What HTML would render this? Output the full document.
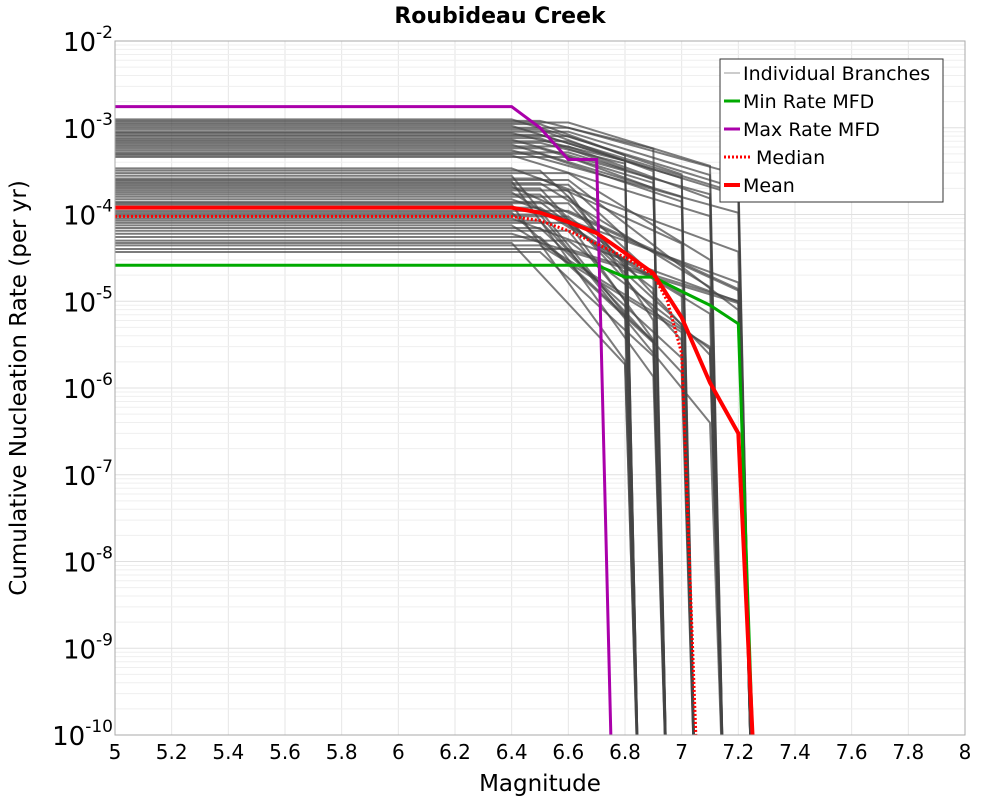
<!DOCTYPE html>
<html><head><meta charset="utf-8"><style>
body{margin:0;background:#fff;font-family:"DejaVu Sans","Liberation Sans",sans-serif}
</style></head><body>
<svg id="chart" width="1000" height="800" xmlns="http://www.w3.org/2000/svg" font-family="DejaVu Sans, Liberation Sans, sans-serif">
<defs><clipPath id="pc"><rect x="115" y="41" width="850" height="694"/></clipPath></defs>
<text x="500" y="23" text-anchor="middle" font-size="22" font-weight="bold">Roubideau Creek</text>
<g id="grid"></g>
<g id="branches" clip-path="url(#pc)"></g>
<g id="main" clip-path="url(#pc)"></g>
<rect x="115" y="41" width="850" height="694" fill="none" stroke="#aaa" stroke-width="1"/>
<g id="axes"></g>
<text x="540" y="791" text-anchor="middle" font-size="23">Magnitude</text>
<text transform="translate(26,388) rotate(-90)" text-anchor="middle" font-size="23">Cumulative Nucleation Rate (per yr)</text>
<g>
<rect x="720" y="59" width="223" height="143" fill="#fff" stroke="#333" stroke-width="1"/>
<line x1="724" y1="73" x2="740" y2="73" stroke="#999" stroke-width="1"/>
<text x="743" y="80" font-size="19">Individual Branches</text>
<line x1="724" y1="101" x2="740" y2="101" stroke="#00aa00" stroke-width="3"/>
<text x="743" y="108" font-size="19">Min Rate MFD</text>
<line x1="724" y1="129" x2="740" y2="129" stroke="#aa00aa" stroke-width="3"/>
<text x="743" y="136" font-size="19">Max Rate MFD</text>
<line x1="724" y1="157" x2="752" y2="157" stroke="#ff0000" stroke-width="3" stroke-dasharray="2,2"/>
<text x="756" y="164" font-size="19">Median</text>
<line x1="724" y1="185" x2="740" y2="185" stroke="#ff0000" stroke-width="4"/>
<text x="743" y="192" font-size="19">Mean</text>
</g>
</svg>
<script>
const xTicks=[5,5.2,5.4,5.6,5.8,6,6.2,6.4,6.6,6.8,7,7.2,7.4,7.6,7.8,8];
const yExps=[-2,-3,-4,-5,-6,-7,-8,-9,-10];
const minM=[5,6.7,6.8,6.9,7.0,7.1,7.2,7.25];
const minR=[2.6e-5,2.6e-5,1.9e-5,1.9e-5,1.3e-5,9e-6,5.5e-6,1e-10];
const maxM=[5,6.4,6.5,6.6,6.7,6.75];
const maxR=[1.75e-3,1.75e-3,1e-3,4.3e-4,4.3e-4,1e-10];
const meanM=[5,6.4,6.5,6.6,6.7,6.8,6.9,7.0,7.1,7.2,7.25];
const meanR=[1.2e-4,1.2e-4,1.05e-4,8.2e-5,6.1e-5,3.6e-5,2.1e-5,6.5e-6,1.15e-6,3e-7,1e-10];
const medM=[5,6.4,6.5,6.6,6.7,6.8,6.9,6.95,7.0,7.05];
const medR=[9.5e-5,9.5e-5,8.5e-5,6.5e-5,4.6e-5,3.2e-5,2e-5,1e-5,2.5e-6,1e-10];
// individual branches: flat rate, break magnitude, max magnitude, log-decline per 0.1 mag
const brRate=[1.25e-3,1.2e-3,1.15e-3,1.1e-3,1.05e-3,1e-3,9.5e-4,9e-4,8.7e-4,8.3e-4,8e-4,7.6e-4,7.3e-4,7e-4,6.7e-4,6.4e-4,6.1e-4,5.8e-4,5.5e-4,5.2e-4,5e-4,4.8e-4,4.6e-4,
 3.4e-4,3.2e-4,3e-4,2.8e-4,2.6e-4,2.5e-4,2.4e-4,2.3e-4,2.2e-4,2.1e-4,2e-4,1.9e-4,1.8e-4,1.7e-4,1.6e-4,1.5e-4,1.4e-4,1.35e-4,1.3e-4,1.2e-4,1.1e-4,1.05e-4,1e-4,9.5e-5,9e-5,8.5e-5,8e-5,7.5e-5,7e-5,6.5e-5,6e-5,5.5e-5,5e-5,4.7e-5,4.4e-5,4e-5,3.7e-5];
const brBreak=[6.4,6.5,6.6,6.5,6.4,6.6,6.5,6.6,6.4,6.5,6.6,6.5,6.4,6.6,6.5,6.4,6.6,6.5,6.4,6.6,6.5,6.4,6.6,
 6.4,6.5,6.6,6.4,6.5,6.6,6.4,6.5,6.6,6.4,6.5,6.6,6.4,6.5,6.6,6.4,6.5,6.6,6.4,6.5,6.6,6.4,6.5,6.6,6.4,6.5,6.6,6.4,6.5,6.6,6.4,6.5,6.6,6.4,6.5,6.6,6.5];
const brMax=[7.2,6.9,7.1,6.8,7.0,7.2,6.9,7.1,6.8,7.2,7.0,6.9,7.1,7.2,6.8,7.0,7.1,6.9,7.2,6.8,7.0,7.1,6.9,
 7.2,6.9,7.1,6.8,7.0,7.2,6.9,7.1,6.8,7.2,7.0,6.9,7.1,7.0,6.8,7.2,6.9,7.1,6.8,7.0,7.2,6.9,7.1,6.8,7.2,7.0,6.9,7.1,7.0,6.8,7.2,6.9,7.1,6.8,7.0,7.2,6.9];
const brSlope=[0.1,0.08,0.1,0.12,0.1,0.09,0.12,0.1,0.08,0.1,0.11,0.12,0.09,0.1,0.08,0.1,0.12,0.1,0.09,0.1,0.11,0.1,0.12,
 0.12,0.3,0.2,0.4,0.15,0.25,0.45,0.2,0.3,0.15,0.35,0.5,0.2,0.3,0.4,0.12,0.25,0.35,0.45,0.2,0.15,0.3,0.4,0.25,0.12,0.35,0.45,0.2,0.3,0.4,0.1,0.3,0.25,0.35,0.2,0.1,0.3];
const X=m=>115+(m-5)/3*850;
const Y=r=>41+(-2-Math.log10(r))*86.75;
const NS="http://www.w3.org/2000/svg";
function mk(tag,attrs,parent){const e=document.createElementNS(NS,tag);for(const k in attrs)e.setAttribute(k,attrs[k]);parent.appendChild(e);return e;}
const grid=document.getElementById('grid'),axes=document.getElementById('axes');
xTicks.forEach(t=>{const l=mk('line',{x1:X(t),x2:X(t),y1:41,y2:735,stroke:'#e6e6e6'},grid);


const tx=mk('text',{x:X(t),y:759,'text-anchor':'middle','font-size':20},axes);tx.textContent=String(t);

});
yExps.forEach(e=>{for(let k=1;k<=9;k++){const r=k*Math.pow(10,e);if(Math.log10(r)>-2+1e-9)continue;const y=Y(r);
const l=mk('line',{x1:115,x2:965,y1:y,y2:y,stroke:k===1?'#e0e0e0':'#efefef'},grid);

}
const tx=mk('text',{x:113,y:Y(Math.pow(10,e))+10,'text-anchor':'end','font-size':26},axes);


tx.innerHTML='10<tspan dy="-13" font-size="17">'+e+'</tspan>';});
const br=document.getElementById('branches');
brRate.forEach((r,i)=>{const pts=[[5,r],[brBreak[i],r]];let m=brBreak[i],v=r;
while(m<brMax[i]-1e-9){m=Math.round((m+0.1)*10)/10;v=v*Math.pow(10,-brSlope[i]);pts.push([m,v]);}
pts.push([brMax[i]+0.05,1e-11]);
const p=mk('polyline',{points:pts.map(p=>X(p[0])+','+Y(p[1])).join(' '),fill:'none',stroke:'#444','stroke-opacity':0.7,'stroke-width':2},br);

});
const main=document.getElementById('main');
function series(M,R,color,w,dash,name){const a={points:M.map((m,i)=>X(m)+','+Y(Math.max(R[i],1e-11))).join(' '),fill:'none',stroke:color,'stroke-width':w};if(dash)a['stroke-dasharray']=dash;
const p=mk('polyline',a,main);

}
series(minM,minR,'#00aa00',3,null,'min-rate-line');
series(maxM,maxR,'#aa00aa',3,null,'max-rate-line');
series(medM,medR,'#ff0000',3,'2,2','median-line');
series(meanM,meanR,'#ff0000',4,null,'mean-line');
</script>
</body></html>
